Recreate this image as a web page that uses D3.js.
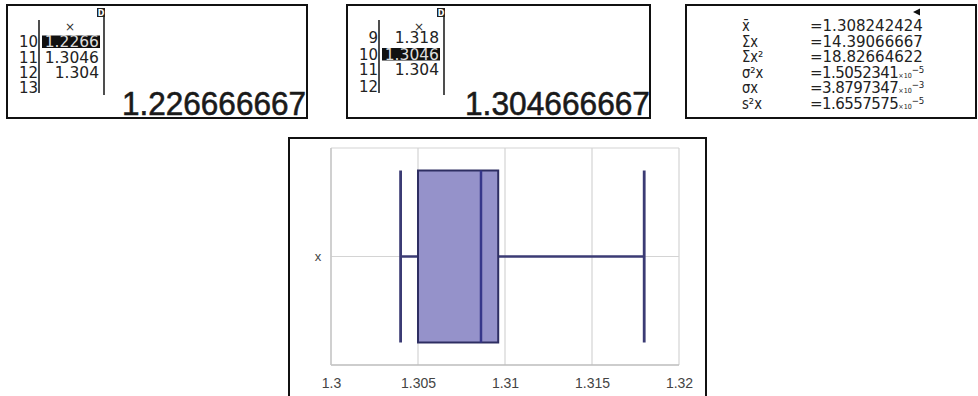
<!DOCTYPE html>
<html><head><meta charset="utf-8">
<script src="https://cdn.jsdelivr.net/npm/d3@7"></script>
<style>body{margin:0;background:#fff}svg{display:block}</style>
</head><body>
<svg id="c" width="978" height="396"></svg>
<script>
// ---- data ----
const rowNums1 = ["10","11","12","13"];
const rowVals1 = ["1.2266","1.3046","1.304",""];
const result1 = "1.226666667";
const rowNums2 = ["9","10","11","12"];
const rowVals2 = ["1.318","1.3046","1.304",""];
const result2 = "1.304666667";
const statLabels = ["x̄","Σx","Σx²","σ²x","σx","s²x"];
const statValues = ["=1.308242424","=14.39066667","=18.82664622","=1.5052341","=3.8797347","=1.6557575"];
const statExps = ["","","","−5","−3","−5"];
const category = ["x"];
const boxStats = {low:1.304, q1:1.305, median:1.30862, q3:1.30961, high:1.318};
const xTicks = [1.3,1.305,1.31,1.315,1.32];
const xTickLabels = ["1.3","1.305","1.31","1.315","1.32"];

const svg = d3.select("#c");
const mono = "'DejaVu Sans', sans-serif";

function tablePanel(g, left, nums, vals, baselines, hl, result) {
  g.append("rect").attr("x",left).attr("y",5).attr("width",left===7?300:303).attr("height",113)
    .attr("fill","#fff").attr("stroke","#111").attr("stroke-width",2);
  g.append("line").attr("x1",left+32).attr("x2",left+32).attr("y1",20).attr("y2",93).attr("stroke","#222").attr("stroke-width",1.6);
  g.append("line").attr("x1",left+97).attr("x2",left+97).attr("y1",12).attr("y2",95).attr("stroke","#222").attr("stroke-width",1.6);
  g.append("rect").attr("x",left+90).attr("y",8).attr("width",8).attr("height",9).attr("fill","#222");
  g.append("text").attr("x",left+94).attr("y",15.5).attr("text-anchor","middle").attr("fill","#fff")
    .attr("font-family",mono).attr("font-size",8).attr("font-weight","bold").text("D");
  g.append("text").attr("x",left+(left===7?63:72)).attr("y",31).attr("text-anchor","middle")
    .attr("font-family",mono).attr("font-size",12).attr("fill","#333").text("×");
  g.append("rect").attr("x",left+35).attr("y",baselines[hl]-11.5).attr("width",58).attr("height",12.5).attr("fill","#111");
  const tn = g.append("text").attr("text-anchor","end").attr("font-family",mono).attr("font-size",15).attr("fill","#222");
  nums.forEach((n,i)=>{ tn.append("tspan").attr("x",left+31).attr("y",baselines[i]).text(n); });
  const tv = g.append("text").attr("text-anchor","end").attr("font-family",mono).attr("font-size",15.5).attr("fill","#222");
  vals.forEach((v,i)=>{ if (v) tv.append("tspan").attr("x",left+92).attr("y",baselines[i]).attr("fill", i===hl?"#ddd":"#222").text(v); });
  const rx = left===7?122:465, rw = left===7?184:185;
  g.append("text").attr("x",rx).attr("y",115).attr("font-family","'Liberation Sans', Arial, sans-serif")
    .attr("font-size",34).attr("fill","#1a1a1a").attr("stroke","#1a1a1a").attr("stroke-width",0.6)
    .attr("textLength",rw).attr("lengthAdjust","spacingAndGlyphs").text(result);
}
tablePanel(svg.append("g"), 7, rowNums1, rowVals1, [47,62.5,78,93], 0, result1);
tablePanel(svg.append("g"), 347, rowNums2, rowVals2, [43,59.5,75,92], 1, result2);

// stats panel
const sp = svg.append("g");
sp.append("rect").attr("x",686).attr("y",5).attr("width",290).attr("height",113)
  .attr("fill","#fff").attr("stroke","#111").attr("stroke-width",2);
sp.append("path").attr("d","M913,12 L920,8.5 L920,15.5 Z").attr("fill","#111");
const sBase = [31,47,62.5,78,93.5,109];
const tl = sp.append("text").attr("font-family",mono).attr("font-size",15.5).attr("fill","#222")
  .attr("transform","translate(742,0) scale(0.85,1) translate(-742,0)");
statLabels.forEach((l,i)=>{ tl.append("tspan").attr("x",742).attr("y",sBase[i]).text(l); });
const sx = 0.911;
const tvals = sp.append("text").attr("font-family",mono).attr("font-size",16.5).attr("fill","#222")
  .attr("transform",`translate(810,0) scale(${sx},1) translate(-810,0)`);
statValues.forEach((v,i)=>{
  tvals.append("tspan").attr("x",810).attr("y",sBase[i]).attr("letter-spacing", statExps[i] ? -0.6 : 0).text(v);
  if (statExps[i]) {
    tvals.append("tspan").attr("font-size",7).attr("letter-spacing",0).text("×10");
    tvals.append("tspan").attr("font-size",9.5).attr("dy",-5).attr("letter-spacing",-0.3).text(statExps[i]);
  }
});

// ---- box plot ----
const bp = svg.append("g");
bp.append("rect").attr("x",289).attr("y",138).attr("width",417).attr("height",270)
  .attr("fill","#fff").attr("stroke","#111").attr("stroke-width",2);
const x = d3.scaleLinear().domain([1.3,1.32]).range([331,679]);
const y = d3.scaleBand().domain(category).range([148,365]).padding(0.1157);
const grid = "#d4d4d4";
xTicks.forEach(t=>{
  bp.append("line").attr("x1",x(t)).attr("x2",x(t)).attr("y1",148).attr("y2",365).attr("stroke",grid).attr("stroke-width",1.2);
});
bp.append("line").attr("x1",331).attr("x2",679).attr("y1",148).attr("y2",148).attr("stroke",grid).attr("stroke-width",1.2);
const cy = y("x") + y.bandwidth()/2;
bp.append("line").attr("x1",331).attr("x2",679).attr("y1",cy).attr("y2",cy).attr("stroke",grid).attr("stroke-width",1.2);
bp.append("line").attr("x1",331).attr("x2",679).attr("y1",365).attr("y2",365).attr("stroke","#bdbdbd").attr("stroke-width",1.5);
bp.append("line").attr("x1",331).attr("x2",331).attr("y1",148).attr("y2",365).attr("stroke","#c8c8c8").attr("stroke-width",1.5);

const axis = d3.axisBottom(x).tickValues(xTicks).tickFormat((d,i)=>xTickLabels[i]).tickSize(0).tickPadding(13);
const ag = bp.append("g").attr("transform","translate(0,365)").call(axis);
ag.select(".domain").remove();
ag.selectAll("text").attr("font-family","'Liberation Sans', Arial, sans-serif").attr("font-size",14).attr("fill","#444");

bp.append("text").attr("x",318).attr("y",cy+4).attr("text-anchor","middle")
  .attr("font-family","'Liberation Sans', Arial, sans-serif").attr("font-size",13).attr("fill","#444").text(category[0]);

const wc = "#3b3b74";
const boxTop = y("x"), boxBot = y("x")+y.bandwidth();
bp.append("line").attr("x1",x(boxStats.low)).attr("x2",x(boxStats.q1)).attr("y1",cy).attr("y2",cy).attr("stroke",wc).attr("stroke-width",2.5);
bp.append("line").attr("x1",x(boxStats.q3)).attr("x2",x(boxStats.high)).attr("y1",cy).attr("y2",cy).attr("stroke",wc).attr("stroke-width",2.5);
[boxStats.low, boxStats.high].forEach(v=>{
  bp.append("line").attr("x1",x(v)).attr("x2",x(v)).attr("y1",boxTop).attr("y2",boxBot).attr("stroke",wc).attr("stroke-width",2.8);
});
bp.append("rect").attr("x",x(boxStats.q1)).attr("y",boxTop).attr("width",x(boxStats.q3)-x(boxStats.q1)).attr("height",boxBot-boxTop)
  .attr("fill","#9592ca").attr("stroke","#2e2e62").attr("stroke-width",2);
bp.append("line").attr("x1",x(boxStats.median)).attr("x2",x(boxStats.median)).attr("y1",boxTop).attr("y2",boxBot)
  .attr("stroke","#36368a").attr("stroke-width",2.5);
</script>
</body></html>
